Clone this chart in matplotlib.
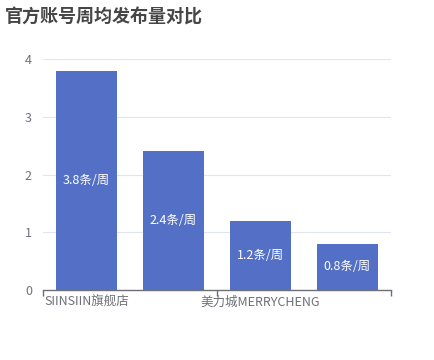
import matplotlib
matplotlib.use("Agg")
import matplotlib.pyplot as plt

plt.rcParams['font.family'] = ['Noto Sans CJK SC', 'DejaVu Sans']

categories = ["SIINSIIN旗舰店", "", "美力城MERRYCHENG", ""]
values = [3.8, 2.4, 1.2, 0.8]
bar_labels = ["3.8条/周", "2.4条/周", "1.2条/周", "0.8条/周"]
yticks = [0, 1, 2, 3, 4]

bar_color = '#5470C6'
axis_color = '#6E7079'
grid_color = '#E0E6F1'

fig = plt.figure(figsize=(4.35, 3.6), dpi=100)
ax = fig.add_axes([43 / 435, 70 / 360, 348 / 435, 231 / 360])

x = list(range(len(categories)))
bars = ax.bar(x, values, width=0.69, color=bar_color, zorder=3)
for b, lab in zip(bars, bar_labels):
    ax.text(b.get_x() + b.get_width() / 2, b.get_height() / 2, lab,
            ha='center', va='center', color='white', fontsize=9,
            fontweight='medium', zorder=4)

ax.set_xlim(-0.5, len(categories) - 0.5)
ax.set_ylim(0, 4)
ax.set_yticks(yticks)
ax.yaxis.grid(True, color=grid_color, linewidth=0.8, zorder=0)
ax.tick_params(axis='y', length=0, labelsize=9, labelcolor=axis_color, pad=8)

# category labels at every other category, ticks at boundaries
ax.set_xticks(x)
ax.set_xticklabels(categories, fontsize=9, color=axis_color)
ax.tick_params(axis='x', length=0, pad=4)
ax.set_xticks([-0.5, 1.5, 3.5], minor=True)
ax.tick_params(axis='x', which='minor', length=4, color=axis_color, width=1)

for s in ['top', 'right', 'left']:
    ax.spines[s].set_visible(False)
ax.spines['bottom'].set_color(axis_color)
ax.spines['bottom'].set_linewidth(1)

fig.text(5 / 435, 1 - 17 / 360, "官方账号周均发布量对比", fontsize=13,
         fontweight='bold', color='#464646', va='center', ha='left')

fig.savefig("out.png", dpi=100)
